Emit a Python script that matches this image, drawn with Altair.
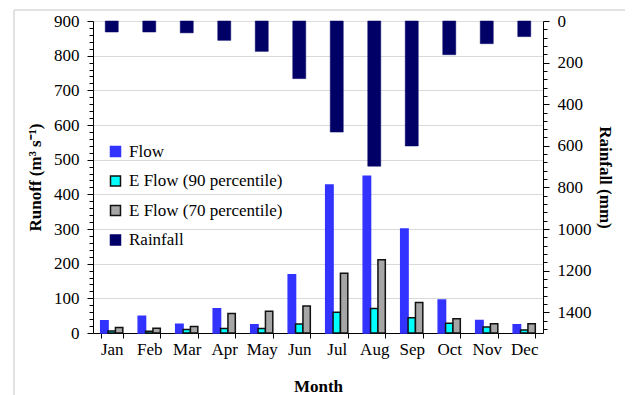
import altair as alt
import pandas as pd

months = ["Jan", "Feb", "Mar", "Apr", "May", "Jun", "Jul", "Aug", "Sep", "Oct", "Nov", "Dec"]
flow = [35, 48, 25, 70, 24, 168, 427, 452, 300, 95, 36, 24]
eflow90 = [6, 5, 10, 13, 13, 26, 60, 71, 44, 28, 17, 9]
eflow70 = [16, 14, 19, 56, 63, 78, 172, 211, 88, 41, 27, 27]
rainfall = [53, 53, 57, 93, 146, 277, 534, 698, 601, 162, 109, 75]

series = ["Flow", "E Flow (90 percentile)", "E Flow (70 percentile)", "Rainfall"]
fills = ["#3333ff", "#00ffff", "#a6a6a6", "#000066"]
strokes = ["#3333ff", "#111111", "#111111", "#000066"]

runoff_df = pd.DataFrame({"Month": months, series[0]: flow, series[1]: eflow90, series[2]: eflow70})
runoff_long = runoff_df.melt("Month", var_name="Series", value_name="Runoff")
rain_df = pd.DataFrame({"Month": months, "Series": series[3], "Rainfall": rainfall})

FONT = "Liberation Serif"
FS = 17

color_scale = alt.Scale(domain=series, range=fills)
stroke_scale = alt.Scale(domain=series, range=strokes)
legend = alt.Legend(
    title=None, orient="none", legendX=14, legendY=122,
    symbolType="square", symbolSize=100, symbolStrokeWidth=1.5,
    labelFont=FONT, labelFontSize=FS, labelColor="black",
    rowPadding=11.5, labelOffset=5, labelLimit=300,
)

x_enc = alt.X(
    "Month:N", sort=months,
    scale=alt.Scale(paddingInner=0.41, paddingOuter=0.205),
    axis=alt.Axis(
        title="Month", titleFont=FONT, titleFontSize=FS, titleFontWeight="bold",
        titleColor="black", titlePadding=21,
        labelFont=FONT, labelFontSize=FS, labelColor="black", labelAngle=0, labelPadding=3,
        tickBand="extent", tickSize=5, tickColor="black", domainColor="black",
        grid=False,
    ),
)

bars = alt.Chart(runoff_long).mark_bar(strokeWidth=1.5).encode(
    x=x_enc,
    xOffset=alt.XOffset("Series:N", sort=series[:3], scale=alt.Scale(paddingInner=0, paddingOuter=0)),
    y=alt.Y(
        "Runoff:Q",
        scale=alt.Scale(domain=[0, 900], nice=False),
        axis=alt.Axis(
            title="Runoff (m³ s⁻¹)", titleFont=FONT, titleFontSize=FS, titleFontWeight="bold",
            titleColor="black", titlePadding=9,
            values=list(range(0, 901, 20)),
            labelExpr="datum.value % 100 === 0 ? datum.label : ''",
            labelFont=FONT, labelFontSize=FS, labelColor="black", labelPadding=8,
            tickColor="black", domainColor="black",
            tickSize={"condition": {"test": "datum.value % 100 === 0", "value": 6}, "value": 4},
            grid=True, gridColor="#d9d9d9",
            gridOpacity={"condition": {"test": "datum.value % 100 === 0 && datum.value < 900", "value": 1}, "value": 0},
        ),
    ),
    color=alt.Color("Series:N", scale=color_scale, legend=legend),
    stroke=alt.Stroke("Series:N", scale=stroke_scale, legend=legend),
)

rain = alt.Chart(rain_df).mark_bar(width=13, strokeWidth=0.5).encode(
    x=alt.X("Month:N", sort=months),
    y=alt.Y(
        "Rainfall:Q",
        scale=alt.Scale(domain=[0, 1500], reverse=True, nice=False),
        axis=alt.Axis(
            orient="right",
            title="Rainfall (mm)", titleFont=FONT, titleFontSize=FS, titleFontWeight="bold",
            titleColor="black", titlePadding=4,
            values=list(range(0, 1501, 40)),
            format="d",
            labelExpr="datum.value % 200 === 0 ? datum.label : ''",
            labelFont=FONT, labelFontSize=FS, labelColor="black", labelPadding=8,
            tickColor="black", domainColor="black",
            tickSize={"condition": {"test": "datum.value % 200 === 0", "value": 6}, "value": 4},
            grid=False,
        ),
    ),
    color=alt.Color("Series:N", scale=color_scale, legend=legend),
    stroke=alt.Stroke("Series:N", scale=stroke_scale, legend=legend),
)

frame_df = pd.DataFrame({"f": [0]})
frame_top = alt.Chart(frame_df).mark_rule(stroke="#d9d9d9", strokeWidth=1.5).encode(
    x=alt.value(-79), x2=alt.value(640), y=alt.value(-11)
)
frame_left = alt.Chart(frame_df).mark_rule(stroke="#d9d9d9", strokeWidth=1.5).encode(
    x=alt.value(-79), y=alt.value(-11), y2=alt.value(420)
)

chart = alt.layer(frame_top, frame_left, bars, rain).resolve_scale(y="independent").properties(
    width=450, height=312,
    autosize=alt.AutoSizeParams(type="none"),
    padding={"left": 85, "top": 13, "right": 82, "bottom": 66},
).configure_view(stroke="#808080", strokeWidth=1).configure(background="white")

chart.save("out.html", embed_options={"renderer": "svg", "actions": False})
